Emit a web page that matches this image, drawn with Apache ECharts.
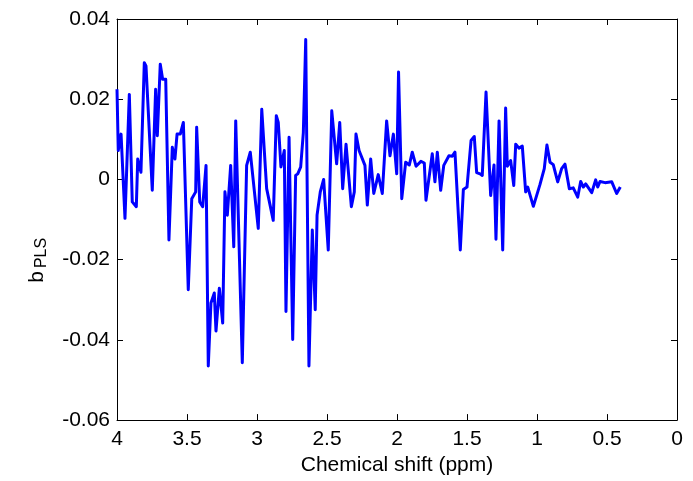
<!DOCTYPE html>
<html>
<head>
<meta charset="utf-8">
<script src="https://cdn.jsdelivr.net/npm/echarts@6/dist/echarts.min.js"></script>
<style>html,body{margin:0;padding:0;background:#fff}#c{width:693px;height:481px}</style>
</head>
<body>
<div id="c"></div>
<script>
const shiftPpm = [4.000,3.991,3.971,3.943,3.912,3.891,3.862,3.852,3.829,3.805,3.793,3.748,3.724,3.712,3.691,3.674,3.652,3.629,3.605,3.586,3.571,3.548,3.526,3.491,3.466,3.438,3.431,3.409,3.388,3.364,3.348,3.329,3.305,3.293,3.269,3.245,3.229,3.212,3.188,3.166,3.152,3.105,3.074,3.048,2.991,2.966,2.931,2.884,2.862,2.848,2.829,2.805,2.793,2.771,2.745,2.724,2.709,2.688,2.669,2.652,2.629,2.605,2.584,2.571,2.548,2.524,2.491,2.466,2.431,2.409,2.388,2.364,2.326,2.305,2.293,2.271,2.229,2.212,2.188,2.166,2.134,2.105,2.074,2.050,2.026,2.002,1.989,1.966,1.938,1.912,1.891,1.864,1.829,1.805,1.793,1.748,1.729,1.712,1.688,1.666,1.629,1.605,1.586,1.548,1.526,1.500,1.471,1.448,1.431,1.407,1.391,1.364,1.331,1.307,1.293,1.271,1.245,1.224,1.212,1.188,1.166,1.152,1.129,1.105,1.081,1.066,1.026,0.979,0.948,0.929,0.907,0.884,0.852,0.824,0.800,0.769,0.741,0.709,0.688,0.669,0.652,0.609,0.581,0.566,0.550,0.514,0.466,0.431,0.405];
const bPLS = [0.0225,0.0072,0.0113,-0.0097,0.0212,-0.0056,-0.0068,0.0051,0.0018,0.0291,0.0283,-0.0027,0.0225,0.0109,0.0287,0.0250,0.0250,-0.0151,0.0080,0.0051,0.0113,0.0113,0.0142,-0.0275,-0.0048,-0.0031,0.0130,-0.0056,-0.0068,0.0035,-0.0465,-0.0308,-0.0283,-0.0378,-0.0271,-0.0358,-0.0031,-0.0089,0.0035,-0.0168,0.0146,-0.0457,0.0035,0.0068,-0.0122,0.0175,-0.0023,-0.0102,0.0159,0.0142,0.0031,0.0072,-0.0329,0.0105,-0.0399,0.0010,0.0014,0.0031,0.0117,0.0349,-0.0465,-0.0126,-0.0325,-0.0089,-0.0031,0.0000,-0.0176,0.0171,0.0039,0.0142,-0.0023,0.0088,-0.0068,-0.0031,0.0113,0.0072,0.0035,-0.0064,0.0051,-0.0035,0.0012,-0.0035,0.0146,0.0059,0.0113,0.0014,0.0268,-0.0048,0.0043,0.0036,0.0068,0.0033,0.0045,0.0041,-0.0052,0.0064,-0.0006,0.0068,-0.0027,0.0035,0.0059,0.0058,0.0068,-0.0176,-0.0025,-0.0019,0.0097,0.0107,0.0017,0.0014,0.0010,0.0218,-0.0040,0.0036,-0.0149,0.0146,-0.0176,0.0178,0.0033,0.0047,-0.0015,0.0088,0.0078,0.0083,-0.0031,-0.0019,-0.0067,-0.0013,0.0027,0.0086,0.0043,0.0037,-0.0006,0.0027,0.0038,-0.0023,-0.0021,-0.0044,-0.0005,-0.0019,-0.0011,-0.0033,-0.0001,-0.0019,-0.0005,-0.0008,-0.0006,-0.0035,-0.0019];
const xTickLabels = ['0','0.5','1','1.5','2','2.5','3','3.5','4'];
const yTickLabels = ['-0.06','-0.04','-0.02','0','0.02','0.04'];
const xTitle = 'Chemical shift (ppm)';
const yTitleMain = 'b';
const yTitleSub = 'PLS';

const FONT = '"Liberation Sans", Arial, sans-serif';
const chart = echarts.init(document.getElementById('c'), null, {renderer:'canvas'});
const lineC = '#000';
const tick = {show:true, inside:true, length:6, lineStyle:{color:lineC, width:1}};
const xFmt = v => xTickLabels[Math.round(v/0.5)];
const yFmt = v => yTickLabels[Math.round((v+0.06)/0.02)];
chart.setOption({
  animation:false,
  backgroundColor:'#fff',
  grid:{left:117, right:16, top:19, bottom:58, show:false},
  xAxis:[
    {type:'value', min:0, max:4, interval:0.5, inverse:true, position:'bottom',
     axisLine:{show:true, onZero:false, lineStyle:{color:lineC, width:1}},
     axisTick:tick, splitLine:{show:false},
     axisLabel:{formatter:xFmt, color:'#000', fontSize:21, fontFamily:FONT, margin:9},
     name:xTitle, nameLocation:'middle', nameGap:34,
     nameTextStyle:{color:'#000', fontSize:21, fontFamily:FONT}},
    {type:'value', min:0, max:4, interval:0.5, inverse:true, position:'top',
     axisLine:{show:true, onZero:false, lineStyle:{color:lineC, width:1}},
     axisTick:tick, axisLabel:{show:false}, splitLine:{show:false}}
  ],
  yAxis:[
    {type:'value', min:-0.06, max:0.04, interval:0.02, position:'left',
     axisLine:{show:true, onZero:false, lineStyle:{color:lineC, width:1}},
     axisTick:tick, splitLine:{show:false},
     axisLabel:{formatter:yFmt, color:'#000', fontSize:21, fontFamily:FONT, margin:7}},
    {type:'value', min:-0.06, max:0.04, interval:0.02, position:'right',
     axisLine:{show:true, onZero:false, lineStyle:{color:lineC, width:1}},
     axisTick:tick, axisLabel:{show:false}, splitLine:{show:false}}
  ],
  graphic:[
    {type:'text', x:37, y:277, rotation:Math.PI/2,
     style:{text:yTitleMain, align:'center', verticalAlign:'middle', fontSize:21, fontFamily:FONT, fill:'#000'}},
    {type:'text', x:42, y:253, rotation:Math.PI/2,
     style:{text:yTitleSub, align:'center', verticalAlign:'middle', fontSize:16, fontFamily:FONT, fill:'#000'}}
  ],
  series:[{
    type:'line', xAxisIndex:0, yAxisIndex:0,
    data: shiftPpm.map((x,i)=>[x,bPLS[i]]),
    showSymbol:false, symbol:'none',
    lineStyle:{color:'#0000ff', width:3, join:'round'},
    itemStyle:{color:'#0000ff'}
  }]
});
</script>
</body>
</html>
